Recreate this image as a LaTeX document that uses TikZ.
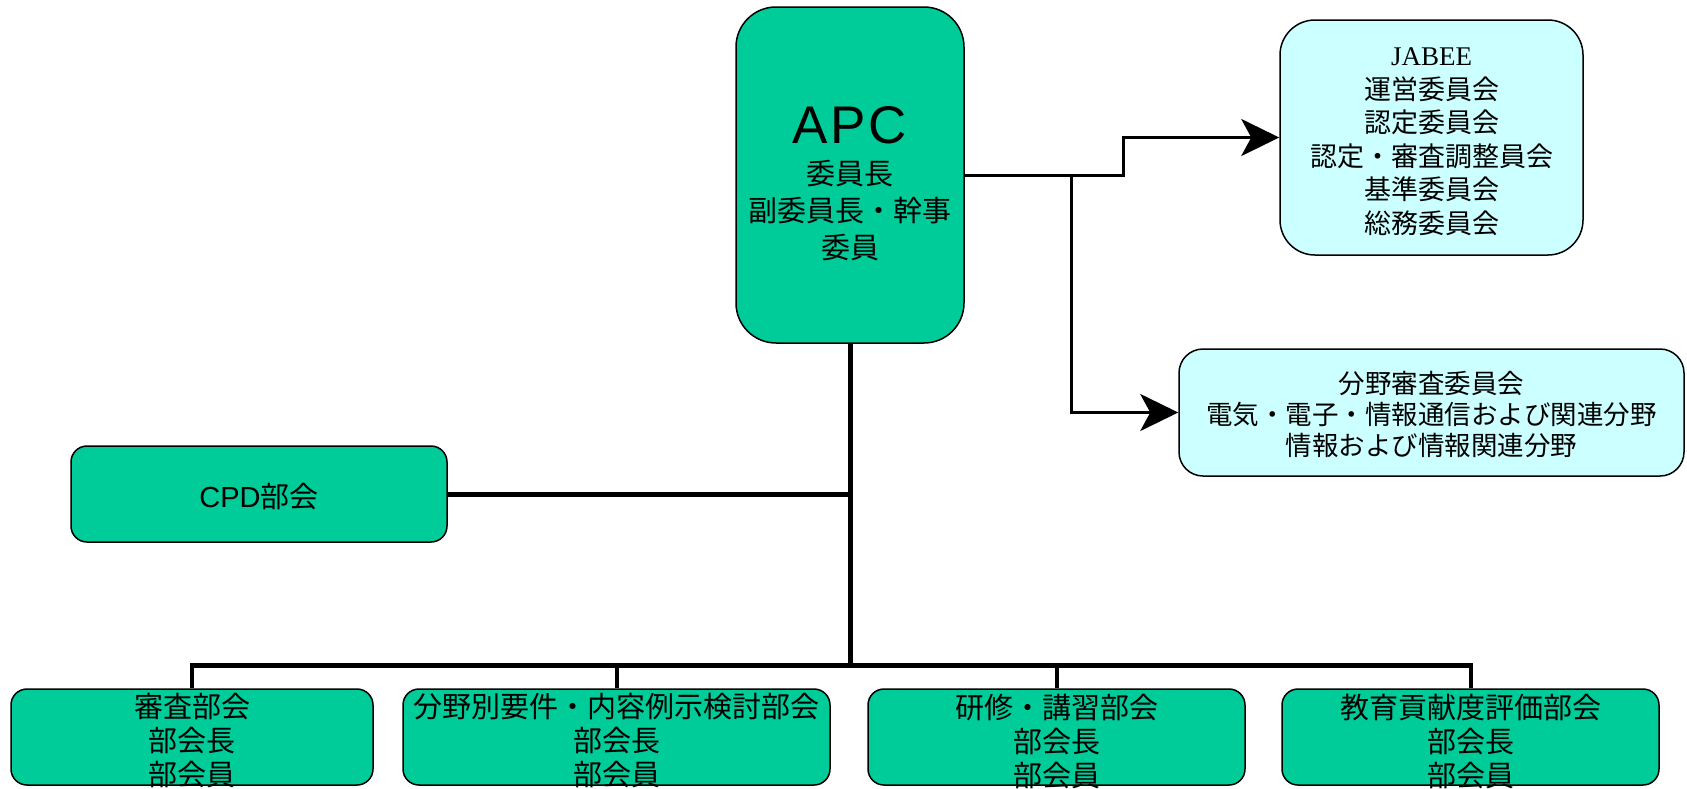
\documentclass[tikz,border=0pt]{standalone}
\usepackage{fontspec}
\setmainfont{Noto Sans CJK JP}
\newfontfamily\latinsans{Liberation Sans}
\newfontfamily\apcfont[LetterSpace=5]{Liberation Sans}
\newfontfamily\latinserif{Liberation Serif}
\usetikzlibrary{arrows.meta}
\definecolor{boxgreen}{RGB}{0,204,153}
\definecolor{boxcyan}{RGB}{204,255,255}
\tikzset{
  gbox/.style={draw=black, line width=1.5pt, fill=boxgreen, inner sep=0pt},
  cbox/.style={draw=black, line width=1.5pt, fill=boxcyan, inner sep=0pt},
  txt/.style={inner sep=0pt, align=center},
  btxt/.style={txt, font=\fontsize{29}{34}\selectfont},
  trunk/.style={line width=5pt},
  drop/.style={line width=4pt},
  arr/.style={line width=3pt, -{Stealth[length=38pt,width=37pt,inset=10pt]}},
}
\begin{document}
\begin{tikzpicture}[x=1pt,y=-1pt]
\useasboundingbox (0,0) rectangle (1687,788);
% boxes
\node[gbox, rounded corners=40pt, minimum width=228pt, minimum height=336pt] (apc) at (850,175) {};
\node[txt, font=\fontsize{29}{37}\selectfont] (apcT) at ([yshift=-9pt]apc.center)
  {{\apcfont\fontsize{53}{53}\selectfont APC}\\[4pt]委員長\\副委員長・幹事\\委員};
\node[cbox, rounded corners=35pt, minimum width=303pt, minimum height=235pt] (jabee) at (1431.5,137.5) {};
\node[txt, font=\fontsize{27}{33.5}\selectfont] (jabeeT) at ([yshift=-4pt]jabee.center)
  {{\latinserif JABEE}\\運営委員会\\認定委員会\\認定・審査調整員会\\基準委員会\\総務委員会};
\node[cbox, rounded corners=24pt, minimum width=505pt, minimum height=127pt] (bunya) at (1431.5,412.5) {};
\node[txt, font=\fontsize{26.5}{31}\selectfont] (bunyaT) at ([yshift=-2pt]bunya.center)
  {分野審査委員会\\電気・電子・情報通信および関連分野\\情報および情報関連分野};
\node[gbox, rounded corners=16pt, minimum width=376pt, minimum height=96pt] (cpd) at (259,494) {};
\node[txt, font=\fontsize{29}{30}\selectfont] (cpdT) at ([yshift=-3pt]cpd.center)
  {{\latinsans CPD}部会};
\node[gbox, rounded corners=16pt, minimum width=362pt, minimum height=96pt] (shinsa) at (192,737) {};
\node[btxt] (shinsaT) at ([yshift=-4pt]shinsa.center) {審査部会\\部会長\\部会員};
\node[gbox, rounded corners=16pt, minimum width=427pt, minimum height=96pt] (yoken) at (616.5,737) {};
\node[btxt] (yokenT) at ([yshift=-4pt]yoken.center) {分野別要件・内容例示検討部会\\部会長\\部会員};
\node[gbox, rounded corners=16pt, minimum width=377pt, minimum height=96pt] (kenshu) at (1056.5,737) {};
\node[btxt] (kenshuT) at ([yshift=-4pt]kenshu.center) {研修・講習部会\\部会長\\部会員};
\node[gbox, rounded corners=16pt, minimum width=377pt, minimum height=96pt] (kyoiku) at (1470.5,737) {};
\node[btxt] (kyoikuT) at ([yshift=-4pt]kyoiku.center) {教育貢献度評価部会\\部会長\\部会員};
% connector coordinates
\coordinate (busC) at (850,665);
\coordinate (busL) at (192,665);
\coordinate (busR) at (1470.5,665);
\coordinate (cpdJ) at (850,494);
\coordinate (jStep) at (1123,175);
\coordinate (bStep) at (1071,175);
% tree
\draw[trunk] (apc.south) -- (busC);
\draw[trunk] (cpd.east) -- (cpdJ);
\draw[trunk, line cap=rect] (busL) -- (busR);
\draw[drop] (shinsa.north) -- (shinsa.north |- busC);
\draw[drop] (yoken.north) -- (yoken.north |- busC);
\draw[drop] (kenshu.north) -- (kenshu.north |- busC);
\draw[drop] (kyoiku.north) -- (kyoiku.north |- busC);
% arrows
\draw[arr] (apc.east) -- (jStep) |- (jabee.west);
\draw[arr] (bStep) |- (bunya.west);
\end{tikzpicture}
\end{document}
